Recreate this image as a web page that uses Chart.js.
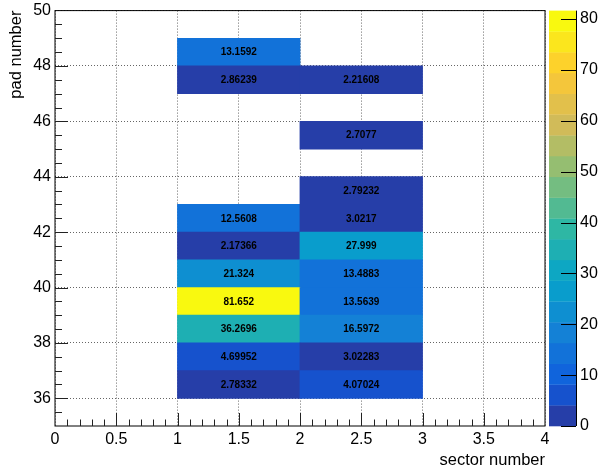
<!DOCTYPE html>
<html>
<head>
<meta charset="utf-8">
<script src="https://cdn.jsdelivr.net/npm/chart.js@4.4.1/dist/chart.umd.min.js"></script>
<style>
  html, body { margin: 0; padding: 0; background: #ffffff; }
  canvas { display: block; }
</style>
</head>
<body>
<canvas id="c" width="601" height="470"></canvas>
<script>
// Occupied bins: low edge of the sector bin, low edge of the pad bin, and the bin content
const sectorLow = [1, 1, 2, 2, 2, 1, 2, 1, 2, 1, 2, 1, 2, 1, 2, 1, 2, 1, 2];
const padLow    = [48, 47, 47, 45, 43, 42, 42, 41, 41, 40, 40, 39, 39, 38, 38, 37, 37, 36, 36];
const cellCounts = [13.1592, 2.86239, 2.21608, 2.7077, 2.79232, 12.5608, 3.0217, 2.17366, 27.999,
                    21.324, 13.4883, 81.652, 13.5639, 36.2696, 16.5972, 4.69952, 3.02283, 2.78332, 4.07024];
const binWidth = 1;

// Axis ranges and tick labels
const xRange = [0, 4];
const yRange = [35, 50];
const xTickValues = [0, 0.5, 1, 1.5, 2, 2.5, 3, 3.5, 4];
const yTickValues = [36, 38, 40, 42, 44, 46, 48, 50];
const zTickValues = [0, 10, 20, 30, 40, 50, 60, 70, 80];
const xTitle = 'sector number';
const yTitle = 'pad number';

// "Bird" colour palette: 255-step gradient between nine stops, 20 contour bands
const birdStops = [0.0000, 0.1250, 0.2500, 0.3750, 0.5000, 0.6250, 0.7500, 0.8750, 1.0000];
const birdR = [0.2082, 0.0592, 0.0780, 0.0232, 0.1802, 0.5301, 0.8186, 0.9956, 0.9764];
const birdG = [0.1664, 0.3599, 0.5041, 0.6419, 0.7178, 0.7492, 0.7328, 0.7862, 0.9832];
const birdB = [0.5293, 0.8684, 0.8385, 0.7914, 0.6425, 0.4662, 0.3499, 0.1968, 0.0539];
const nColors = 255;
const nBands = 20;

const colorTable = [];
for (let g = 1; g < birdStops.length; g++) {
  const n = Math.floor(nColors * birdStops[g]) - Math.floor(nColors * birdStops[g - 1]);
  for (let c = 0; c < n; c++) {
    const f = c / n;
    colorTable.push([
      birdR[g - 1] + (birdR[g] - birdR[g - 1]) * f,
      birdG[g - 1] + (birdG[g] - birdG[g - 1]) * f,
      birdB[g - 1] + (birdB[g] - birdB[g - 1]) * f
    ]);
  }
}
function bandColor(k) {
  const idx = Math.min(colorTable.length - 1, Math.floor((k + 0.99) * nColors / nBands));
  const c = colorTable[idx];
  return 'rgb(' + Math.round(c[0] * 255) + ',' + Math.round(c[1] * 255) + ',' + Math.round(c[2] * 255) + ')';
}
const zMin = 0;
const zMax = Math.max(...cellCounts);
function valueBand(z) {
  return Math.min(nBands - 1, Math.floor(0.01 + (z - zMin) * nBands / (zMax - zMin)));
}

const FONT = "'Liberation Sans', Arial, Helvetica, sans-serif";

const cellData = cellCounts.map((z, i) => ({
  x: sectorLow[i] + binWidth / 2,
  y: [padLow[i], padLow[i] + 1],
  z: z
}));
const cellColors = cellCounts.map(z => bandColor(valueBand(z)));

// Frame, inner tick marks, cell values and the colour palette
const histPainter = {
  id: 'histPainter',
  afterDatasetsDraw(chart) {
    const ctx = chart.ctx;
    const meta = chart.getDatasetMeta(0);
    ctx.save();
    ctx.fillStyle = '#000';
    ctx.font = 'bold 10px ' + FONT;
    ctx.textAlign = 'center';
    ctx.textBaseline = 'middle';
    meta.data.forEach((el, i) => {
      ctx.fillText(String(cellCounts[i]), el.x, (el.y + el.base) / 2 + 0.5);
    });
    ctx.restore();
  },
  afterDraw(chart) {
    const ctx = chart.ctx;
    const a = chart.chartArea;
    const xs = chart.scales.x, ys = chart.scales.y, zs = chart.scales.z;
    ctx.save();

    // frame
    ctx.strokeStyle = '#000';
    ctx.lineWidth = 1;
    ctx.strokeRect(a.left, a.top, a.right - a.left, a.bottom - a.top);

    // x ticks: major every 0.5, minor every 0.1, drawn upwards from the axis
    ctx.strokeStyle = '#222';
    ctx.beginPath();
    for (let i = 1; i < 40; i++) {
      const v = xRange[0] + i / 10;
      const px = Math.round(xs.getPixelForValue(v)) + 0.5;
      const len = (i % 5 === 0) ? 13 : 6.5;
      ctx.moveTo(px, a.bottom);
      ctx.lineTo(px, a.bottom - len);
    }
    // y ticks: major every 2, minor every 0.5, drawn rightwards from the axis
    for (let i = 1; i < 30; i++) {
      const v = yRange[0] + i / 2;
      const py = Math.round(ys.getPixelForValue(v)) + 0.5;
      const len = (v % 2 === 0) ? 13 : 7;
      ctx.moveTo(a.left, py);
      ctx.lineTo(a.left + len, py);
    }
    ctx.stroke();

    // palette
    const pl = zs.left + 4, pr = zs.left + 31;
    for (let k = 0; k < nBands; k++) {
      const y0 = zs.getPixelForValue(zMin + k * (zMax - zMin) / nBands);
      const y1 = zs.getPixelForValue(zMin + (k + 1) * (zMax - zMin) / nBands);
      ctx.fillStyle = bandColor(k);
      ctx.fillRect(pl, y1, pr - pl, y0 - y1 + 0.3);
    }
    ctx.strokeStyle = '#000';
    ctx.beginPath();
    ctx.moveTo(pr + 0.5, a.top);
    ctx.lineTo(pr + 0.5, a.bottom);
    zTickValues.forEach(v => {
      const py = Math.round(zs.getPixelForValue(v)) + 0.5;
      ctx.moveTo(pr, py);
      ctx.lineTo(pr - 15, py);
    });
    ctx.stroke();
    ctx.restore();
  }
};

const gridDots = { color: 'rgba(0,0,0,0.6)', lineWidth: 1, drawTicks: false, offset: false };

// fixed axis sizes; the label paddings are not allowed to shrink the plot area
function fixSize(prop, size) {
  return s => {
    s[prop] = size;
    s.paddingTop = 0; s.paddingBottom = 0; s.paddingLeft = 0; s.paddingRight = 0;
  };
}

new Chart(document.getElementById('c'), {
  type: 'bar',
  data: {
    datasets: [{
      data: cellData,
      xAxisID: 'xc',
      yAxisID: 'y',
      backgroundColor: cellColors,
      borderWidth: 0,
      borderSkipped: false,
      barPercentage: 1,
      categoryPercentage: 1,
      inflateAmount: 0.4
    }]
  },
  options: {
    responsive: false,
    animation: false,
    devicePixelRatio: 1,
    layout: { padding: { top: 10.6, left: 0, right: 0, bottom: 0 } },
    plugins: { legend: { display: false }, tooltip: { enabled: false } },
    scales: {
      xc: {
        type: 'linear', position: 'bottom', display: false, offset: false,
        min: xRange[0], max: xRange[1],
        ticks: { stepSize: binWidth }
      },
      x: {
        type: 'linear', position: 'bottom', offset: false, z: 1,
        min: xRange[0], max: xRange[1],
        afterBuildTicks: s => { s.ticks = xTickValues.map(v => ({ value: v })); },
        afterFit: fixSize('height', 44),
        grid: gridDots,
        border: { display: false, dash: [1, 2] },
        ticks: {
          autoSkip: false, maxRotation: 0, padding: 4, color: '#000',
          font: { family: FONT, size: 16 },
          callback: v => String(v)
        },
        title: {
          display: true, text: xTitle, align: 'end', color: '#000',
          font: { family: FONT, size: 16.5, lineHeight: 1.2 },
          padding: { top: 2, bottom: 0 }
        }
      },
      y: {
        type: 'linear', position: 'left', offset: false, z: 1,
        min: yRange[0], max: yRange[1],
        afterBuildTicks: s => { s.ticks = yTickValues.map(v => ({ value: v })); },
        afterFit: fixSize('width', 55),
        grid: gridDots,
        border: { display: false, dash: [1, 2] },
        ticks: {
          autoSkip: false, padding: 4, color: '#000',
          font: { family: FONT, size: 16 },
          callback: v => String(v)
        },
        title: {
          display: true, text: yTitle, align: 'end', color: '#000',
          font: { family: FONT, size: 16.5, lineHeight: 1.2 },
          padding: { top: 7, bottom: 0 }
        }
      },
      z: {
        type: 'linear', position: 'right', axis: 'y', offset: false,
        min: zMin, max: zMax,
        afterBuildTicks: s => { s.ticks = zTickValues.map(v => ({ value: v })); },
        afterFit: fixSize('width', 56),
        grid: { display: false, drawTicks: false },
        border: { display: false },
        ticks: {
          autoSkip: false, padding: 35, color: '#000',
          font: { family: FONT, size: 16 },
          callback: v => String(v)
        }
      }
    }
  },
  plugins: [histPainter]
});
</script>
</body>
</html>
